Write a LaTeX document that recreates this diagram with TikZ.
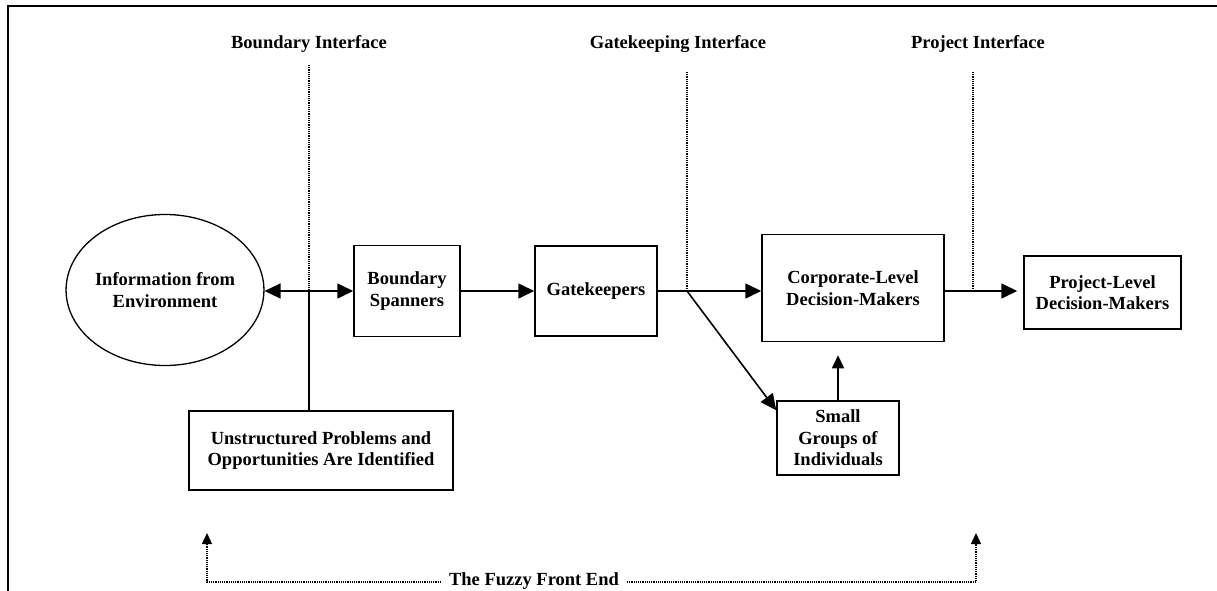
\documentclass[tikz,border=0pt]{standalone}
\usepackage{fontspec}
\setmainfont{Liberation Serif}
\usetikzlibrary{arrows.meta,calc,shapes.geometric}
\tikzset{
  lbl/.style={font=\bfseries\fontsize{18.5}{21.5}\selectfont, align=center, inner sep=0pt},
  boxnode/.style={draw, line width=1.5pt, lbl, inner sep=0pt},
  conn/.style={line width=1.6pt, -{Triangle[length=16pt,width=15pt]}},
  plain/.style={line width=1.6pt},
  dots/.style={line width=1.3pt, dash pattern=on 1.2pt off 1pt},
  smallarr/.style={-{Triangle[length=11pt,width=10pt]}},
}
\begin{document}
\begin{tikzpicture}[x=1pt,y=-1pt]
\useasboundingbox (0,0) rectangle (1217,591);
% frame
\draw[line width=2.4pt] (8,600) -- (8,6) -- (1230,6);

% top labels
\node[lbl] (lb) at (309,44) {Boundary Interface};
\node[lbl] (lg) at (678,44) {Gatekeeping Interface};
\node[lbl] (lp) at (978,44) {Project Interface};

% nodes
\node[draw, ellipse, line width=1.3pt, minimum width=196pt, minimum height=151pt, lbl] (env) at (165,290) {Information from\\Environment};
\node[boxnode, minimum width=106pt, minimum height=91pt] (bsp) at (407,291) {Boundary\\Spanners};
\node[boxnode, minimum width=122pt, minimum height=90pt] (gk) at (596,291) {Gatekeepers};
\node[boxnode, minimum width=182pt, minimum height=107pt] (corp) at (853,288) {Corporate-Level\\Decision-Makers};
\node[boxnode, minimum width=157pt, minimum height=73pt] (proj) at (1102.5,292.5) {Project-Level\\Decision-Makers};
\node[boxnode, minimum width=122pt, minimum height=74pt] (small) at (838,438) {Small\\Groups of\\Individuals};
\node[boxnode, minimum width=264pt, minimum height=79pt] (unstr) at (321,450.5) {Unstructured Problems and\\Opportunities Are Identified};

% junctions
\coordinate (j1) at (309,291);
\coordinate (j2) at (687,291);
\coordinate (j3) at (973,291);
\coordinate (t1) at (309,65);
\coordinate (t2) at (687,72);
\coordinate (t3) at (973,72);

% dotted interface lines
\draw[dots] (t1) -- (j1);
\draw[dots] (t2) -- ($(j2)+(0,-3)$);
\draw[dots] (t3) -- ($(j3)+(0,-3)$);

% connectors
\draw[conn] (j1) -- (j1 -| env.east);
\draw[conn] (j1) -- (j1 -| bsp.west);
\draw[plain] (j1) -- (j1 |- unstr.north);
\draw[conn] (bsp.east |- j1) -- (j1 -| gk.west);
\draw[conn] (gk.east |- j2) -- (j2 -| corp.west);
\draw[conn] (j2) -- ($(small.north west)+(0,10)$);
\draw[line width=1.6pt, -{Triangle[length=13pt,width=12pt]}, shorten >=13pt] (small.north) -- (small.north |- corp.south);
\draw[conn, shorten >=6pt] (corp.east |- j3) -- (j3 -| proj.west);

% fuzzy front end
\node[lbl] (ff) at (534,581) {The Fuzzy Front End};
\coordinate (fl) at (207,582);
\coordinate (fr) at (976,582);
\draw[dots, smallarr, shorten <=8pt] (ff.west |- fl) -- (fl) -- ++(0,-49);
\draw[dots, smallarr, shorten <=8pt] (ff.east |- fr) -- (fr) -- ++(0,-49);
\end{tikzpicture}
\end{document}
